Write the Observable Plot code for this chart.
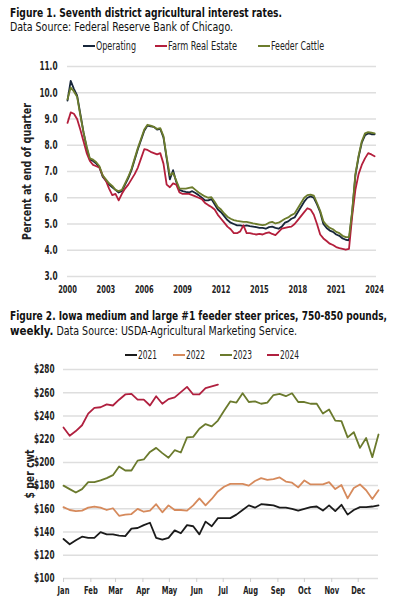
<!DOCTYPE html>
<html>
<head>
<meta charset="utf-8">
<script src="https://cdn.jsdelivr.net/npm/d3@7"></script>
<script src="https://cdn.jsdelivr.net/npm/@observablehq/plot@0.6"></script>
<style>
  body { margin: 0; background: #fff; }
  #page { position: relative; width: 400px; height: 613px; overflow: hidden;
          font-family: 'Liberation Sans Narrow', 'DejaVu Sans Condensed', 'Roboto Condensed', sans-serif; color: #111; }
  .t { position: absolute; left: 10px; white-space: nowrap; transform-origin: 0 50%; display: inline-block; }
  .title { font-weight: bold; font-size: 13px; line-height: 16px; }
  .sub { font-size: 12px; line-height: 14px; }
  .leg { position: absolute; font-size: 12px; line-height: 14px; white-space: nowrap; display: flex; align-items: center; color: #222; }
  .leg .name { display: inline-block; transform-origin: 0 50%; }
  .sw { display: inline-block; width: 12px; height: 2px; margin-right: 1px; }
  .chart { position: absolute; left: 0; }
</style>
</head>
<body>
<div id="page">
  <div class="t title" style="top:5px" data-w="272">Figure 1. Seventh district agricultural interest rates.</div>
  <div class="t sub" style="top:20px" data-w="223">Data Source: Federal Reserve Bank of Chicago.</div>
  <div id="legend1"></div>
  <div id="chart1" class="chart" style="top:56px"></div>

  <div class="t title" style="top:308px" data-w="377">Figure 2. Iowa medium and large #1 feeder steer prices, 750-850 pounds,</div>
  <div class="t sub" style="top:324px" data-w="287"><b style="font-size:13px">weekly.</b> Data Source: USDA-Agricultural Marketing Service.</div>
  <div id="legend2"></div>
  <div id="chart2" class="chart" style="top:362px"></div>
</div>
<script>
// ---- Figure 1: quarterly interest rates, 2000 Q1 – 2024 Q1 (percent) ----
const firstYear = 2000;
const operating = [
  9.7, 10.45, 10.15, 9.9,   9.2, 8.5, 7.9, 7.45,   7.4, 7.3, 7.15, 6.8,   6.65, 6.5, 6.4, 6.3,
  6.2, 6.25, 6.5, 6.75,     7.05, 7.45, 7.85, 8.2,  8.55, 8.75, 8.72, 8.7,  8.6, 8.62, 8.3, 7.5,
  6.7, 7.05, 6.6, 6.3,      6.25, 6.22, 6.2, 6.25,  6.18, 6.1, 6.0, 5.9,    5.9, 5.95, 5.75, 5.55,
  5.45, 5.3, 5.15, 5.05,    5.0, 4.95, 4.95, 4.92,  4.95, 4.92, 4.9, 4.88,  4.85, 4.85, 4.82, 4.88,
  4.9, 4.85, 4.82, 4.9,     5.05, 5.1, 5.2, 5.25,   5.45, 5.65, 5.85, 6.0,  6.05, 6.0, 5.75, 5.45,
  5.0, 4.85, 4.75, 4.7,     4.6, 4.55, 4.45, 4.4,   4.38, 5.45, 6.85, 7.55, 8.1, 8.38, 8.45, 8.42,
  8.42
];
const farmRealEstate = [
  8.85, 9.25, 9.2, 9.0,     8.6, 8.15, 7.7, 7.4,    7.25, 7.2, 7.15, 6.85,  6.65, 6.35, 6.1, 6.15,
  5.9, 6.15, 6.35, 6.5,     6.7, 6.9, 7.15, 7.5,    7.85, 7.82, 7.75, 7.7,  7.65, 7.7, 7.3, 6.5,
  6.4, 6.55, 6.5, 6.2,      6.15, 6.15, 6.15, 6.1,  6.05, 6.0, 5.95, 5.8,   5.72, 5.65, 5.55, 5.35,
  5.2, 5.05, 4.9, 4.8,      4.65, 4.65, 4.72, 4.95, 4.65, 4.65, 4.62, 4.6,  4.62, 4.6, 4.65, 4.68,
  4.62, 4.58, 4.7, 4.82,    4.85, 4.88, 4.9, 5.0,   5.15, 5.3, 5.45, 5.6,   5.55, 5.35, 5.0, 4.6,
  4.45, 4.35, 4.25, 4.2,    4.12, 4.08, 4.05, 4.02, 4.05, 5.3, 6.3, 6.9,    7.25, 7.5, 7.7, 7.65,
  7.58
];
const feederCattle = [
  9.75, 10.2, 10.05, 9.85,  9.15, 8.5, 7.95, 7.5,   7.45, 7.35, 7.2, 6.85,  6.7, 6.55, 6.45, 6.3,
  6.25, 6.3, 6.55, 6.8,     7.1, 7.5, 7.9, 8.25,    8.6, 8.78, 8.75, 8.7,   8.62, 8.65, 8.35, 7.55,
  6.85, 6.95, 6.65, 6.35,   6.35, 6.35, 6.38, 6.4,  6.3, 6.2, 6.12, 6.05,   6.0, 6.02, 5.85, 5.65,
  5.55, 5.4, 5.28, 5.2,     5.15, 5.12, 5.1, 5.08,  5.08, 5.05, 5.02, 5.0,  4.98, 4.96, 4.98, 5.05,
  5.08, 5.02, 5.05, 5.12,   5.2, 5.25, 5.34, 5.4,   5.6, 5.8, 6.0, 6.1,     6.12, 6.08, 5.8, 5.5,
  5.1, 4.95, 4.85, 4.8,     4.7, 4.65, 4.55, 4.5,   4.5, 5.5, 6.9, 7.6,     8.15, 8.45, 8.5, 8.48,
  8.45
];
const rateSeries = ["Operating", "Farm Real Estate", "Feeder Cattle"];
const rateColors = ["#17263a", "#b41f3c", "#6c7c2c"];
const rateTicksY = [3, 4, 5, 6, 7, 8, 9, 10, 11];
const rateTicksX = [2000, 2003, 2006, 2009, 2012, 2015, 2018, 2021, 2024];

// ---- Figure 2: weekly feeder steer prices ($ per cwt) ----
const steer2021 = [134, 129.5, 133, 136, 135, 135, 140, 138, 138, 137, 136.5, 143, 143.5, 146, 148, 135,
  133.5, 135, 141.5, 139, 146, 145, 138, 149, 145, 152, 152, 152, 155, 159, 163, 161, 164, 163.5, 163,
  161, 161, 160, 158.5, 160, 161.5, 162, 158.5, 163, 158, 163.5, 155, 159, 161.5, 161.5, 162, 163];
const steer2022 = [161.5, 159, 158, 158.5, 161, 162, 161, 159, 160.5, 154, 155, 155.5, 160, 157.5, 158.5,
  164, 157, 163, 159, 159, 158.5, 163, 169, 163, 168.5, 175, 179, 181.5, 181.5, 181.5, 180, 184, 186.5,
  185, 185.5, 187, 183.5, 182.5, 178.5, 184.5, 181, 181, 181, 183, 177, 180.5, 169, 178, 181, 176, 168.5, 176];
const steer2023 = [180, 177, 174, 177, 183, 183, 184.5, 186.5, 189, 196.5, 193, 193, 201.5, 202.5, 209,
  212.5, 208, 204, 210.5, 208.5, 221.5, 222, 229, 233, 231, 236, 244.5, 252.5, 251.5, 259.5, 252, 252.5,
  250.5, 251.5, 258, 259, 257, 259.5, 252, 252, 250.5, 250.5, 242, 245.5, 236, 235.5, 221.5, 226, 212.5,
  221, 204.5, 224];
const steer2024 = [230, 223, 227, 232, 242, 247, 247.5, 250, 249, 254, 258.5, 259, 254, 254, 249, 257,
  250.5, 254.5, 256, 260.5, 265, 258.5, 258.5, 264, 265.5, 267];
const steerYears = ["2021", "2022", "2023", "2024"];
const steerColors = ["#1b1b1b", "#d68a5c", "#6b7a2d", "#b0203f"];
const monthNames = ["Jan", "Feb", "Mar", "Apr", "May", "Jun", "Jul", "Aug", "Sep", "Oct", "Nov", "Dec"];
const priceTicksY = [100, 120, 140, 160, 180, 200, 220, 240, 260, 280];

const fontStack = "'Liberation Sans Narrow', 'DejaVu Sans Condensed', 'Roboto Condensed', sans-serif";
const axisStyle = { fontFamily: fontStack, fontSize: "11px", fontWeight: "bold", color: "#222", background: "transparent" };

// Legend rows: line swatch followed by the series name (name squeezed to a set width)
function legend(containerId, top, items) {
  const box = document.getElementById(containerId);
  items.forEach(([name, color, left, w]) => {
    const el = document.createElement("div");
    el.className = "leg";
    el.style.top = top + "px";
    el.style.left = left + "px";
    el.innerHTML = `<span class="sw" style="background:${color}"></span><span class="name" data-w="${w}">${name}</span>`;
    box.appendChild(el);
  });
}
legend("legend1", 39, [[rateSeries[0], rateColors[0], 83, 40], [rateSeries[1], rateColors[1], 155, 69], [rateSeries[2], rateColors[2], 258, 53]]);
legend("legend2", 348, [[steerYears[0], steerColors[0], 125, 19], [steerYears[1], steerColors[1], 173, 19], [steerYears[2], steerColors[2], 220, 19], [steerYears[3], steerColors[3], 267, 19]]);

// Chart 1
const rateRows = [operating, farmRealEstate, feederCattle].flatMap((vals, k) =>
  vals.map((v, i) => ({ t: firstYear + i / 4, v, s: rateSeries[k] })));

const chart1 = Plot.plot({
  width: 400, height: 250,
  marginLeft: 67, marginRight: 24, marginTop: 10, marginBottom: 30,
  style: axisStyle,
  x: { domain: [2000, 2024.15] },
  y: { domain: [3, 11] },
  color: { domain: rateSeries, range: rateColors },
  marks: [
    Plot.gridY(rateTicksY, { stroke: "#dedede", strokeOpacity: 1, strokeWidth: 1.5 }),
    Plot.axisY(rateTicksY, { tickSize: 0, tickPadding: 10, tickFormat: d => d.toFixed(1),
      label: "Percent at end of quarter", labelAnchor: "center", labelOffset: 45, labelArrow: "none", fontSize: 12 }),
    Plot.axisX(rateTicksX, { tickSize: 0, tickPadding: 9, tickFormat: d => String(d), label: null }),
    Plot.line(rateRows, { x: "t", y: "v", z: "s", stroke: "s", strokeWidth: 1.8 })
  ]
});
document.getElementById("chart1").appendChild(chart1);

// Chart 2: weeks placed on a common calendar year
const weekDate = i => new Date(Date.UTC(2021, 0, 1 + 7 * i));
const steerRows = [steer2021, steer2022, steer2023, steer2024].flatMap((vals, k) =>
  vals.map((v, i) => ({ d: weekDate(i), v, s: steerYears[k] })));
const monthStarts = d3.utcMonths(new Date(Date.UTC(2021, 0, 1)), new Date(Date.UTC(2021, 11, 2)));

const chart2 = Plot.plot({
  width: 400, height: 251,
  marginLeft: 63, marginRight: 22, marginTop: 7, marginBottom: 35,
  style: axisStyle,
  x: { type: "utc", domain: [new Date(Date.UTC(2021, 0, 1)), new Date(Date.UTC(2021, 11, 24))] },
  y: { domain: [100, 280] },
  color: { domain: steerYears, range: steerColors },
  marks: [
    Plot.gridY(priceTicksY, { stroke: "#dedede", strokeOpacity: 1, strokeWidth: 1.5 }),
    Plot.axisY(priceTicksY, { tickSize: 0, tickPadding: 9, tickFormat: d => "$" + d,
      label: "$ per cwt", labelAnchor: "center", labelOffset: 38, labelArrow: "none", fontSize: 12 }),
    Plot.axisX(monthStarts, { tickSize: 4, tickPadding: 4, stroke: "#cfcfcf",
      tickFormat: d => monthNames[d.getUTCMonth()], label: null }),
    Plot.line(steerRows, { x: "d", y: "v", z: "s", stroke: "s", strokeWidth: 1.8 })
  ]
});
document.getElementById("chart2").appendChild(chart2);

// Condensed lettering: squeeze axis text horizontally along its own direction
function condense(svg, factor, labelLengths) {
  svg.querySelectorAll('g[aria-label$="tick label"] text').forEach(t => {
    const len = t.getComputedTextLength();
    t.setAttribute("textLength", (len * factor).toFixed(1));
    t.setAttribute("lengthAdjust", "spacingAndGlyphs");
  });
  svg.querySelectorAll('g[aria-label="y-axis label"] text').forEach(t => {
    t.setAttribute("textLength", labelLengths.y);
    t.setAttribute("lengthAdjust", "spacingAndGlyphs");
  });
}
condense(chart1, 0.68, { y: 137 });
condense(chart2, 0.68, { y: 49 });

// Fit the condensed heading and legend text to their set widths
document.querySelectorAll("[data-w]").forEach(el => {
  const w = el.getBoundingClientRect().width;
  const target = +el.dataset.w;
  if (w > 0) el.style.transform = `scaleX(${target / w})`;
});
</script>
</body>
</html>
